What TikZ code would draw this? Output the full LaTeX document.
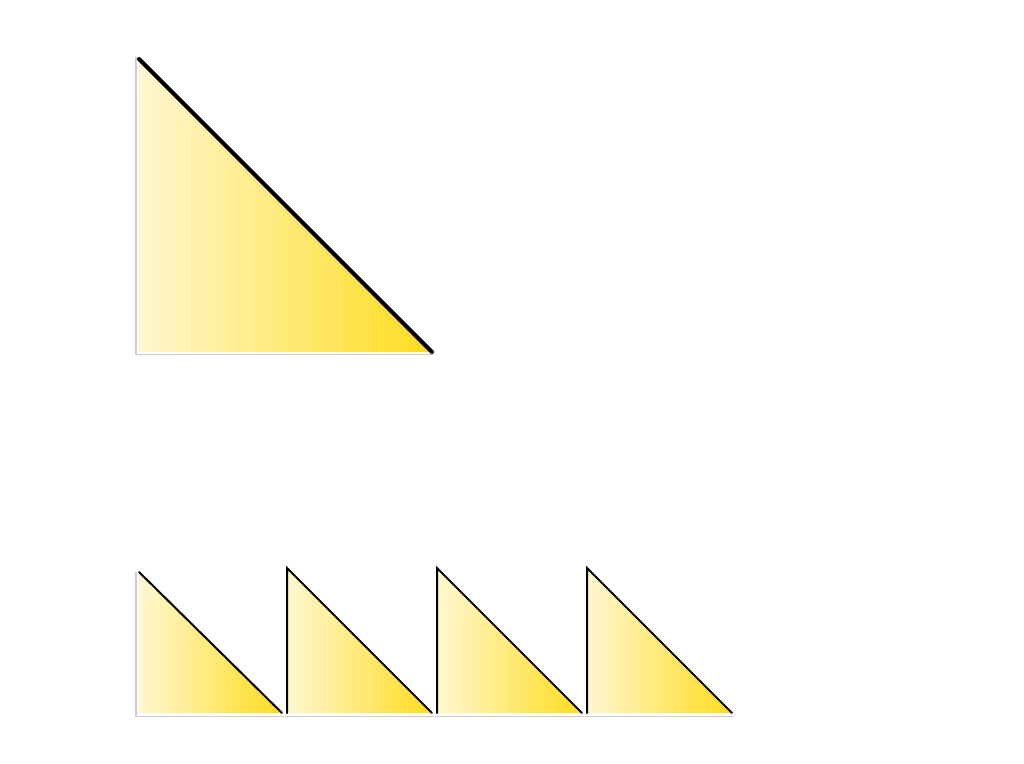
\documentclass[tikz,border=0pt]{standalone}
\usepackage{tikz}
\usetikzlibrary{calc}
\definecolor{palegold}{HTML}{FFF7D0}
\definecolor{deepgold}{HTML}{FFDC1E}
\tikzstyle{wedge} = [left color=palegold, right color=deepgold]
\tikzstyle{rim} = [draw=black!20, line width=1.5pt]
\tikzstyle{slope} = [draw=black, line cap=round]

\begin{document}
\begin{tikzpicture}[x=1pt, y=-1pt]
    \useasboundingbox (0,0) rectangle (1024,763);
    % large triangle
    \coordinate (top) at (139,59);
    \coordinate (corner) at (139,352);
    \coordinate (tip) at (432,352);
    \draw [rim] (136,57) -- (136,354.5) -- (433,354.5);
    \shade [wedge] (top) -- (corner) -- (tip) -- cycle;
    \draw [slope, line width=4pt] (top) -- (tip);

    % row of small triangles
    \coordinate (top0) at (139,572);
    \coordinate (corner0) at (139,713);
    \coordinate (tip0) at (282,713);
    \draw [rim] (136,572) -- (136,716.5) -- (284,716.5);
    \shade [wedge] (top0) -- (corner0) -- (tip0) -- cycle;
    \draw [slope, line width=2pt] (top0) -- (tip0);
    \foreach \k/\x in {1/287,2/437,3/587} {
        \coordinate (top\k) at (\x,568);
        \coordinate (corner\k) at (\x,713);
        \coordinate (tip\k) at (\x+145,713);
        \draw [rim] (\x-2,716.5) -- (\x+147,716.5);
        \shade [wedge] (top\k) -- (corner\k) -- (tip\k) -- cycle;
        \draw [slope, line width=2pt] (corner\k) -- (top\k) -- (tip\k);
    }
\end{tikzpicture}
\end{document}
